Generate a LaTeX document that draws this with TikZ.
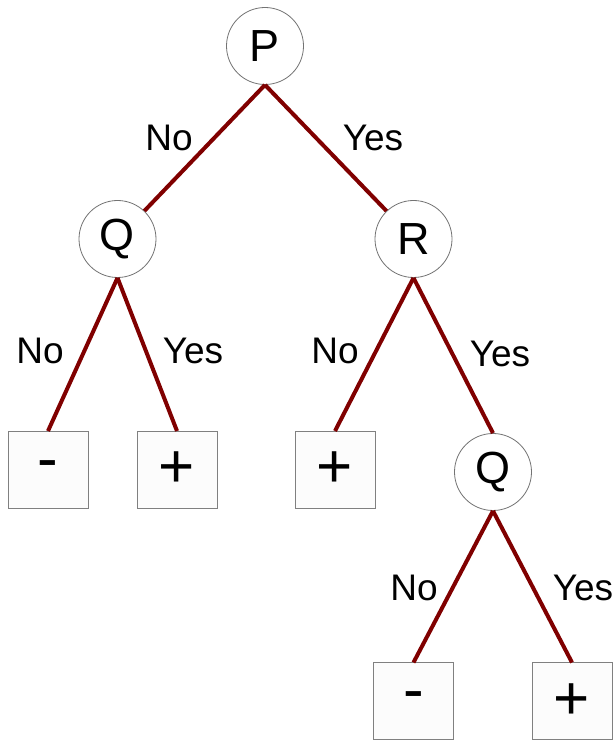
\documentclass[tikz,border=0pt]{standalone}
\usepackage{fontspec}
\setmainfont{Liberation Sans}
\begin{document}
\begin{tikzpicture}[x=1pt,y=1pt,
  dec/.style={circle,draw=black!55,line width=0.8pt,fill=white,minimum size=77pt,inner sep=0pt,font=\fontsize{45}{48}\selectfont},
  leaf/.style={rectangle,draw=black!50,line width=1pt,fill=black!1,minimum width=80pt,minimum height=77pt,inner sep=0pt,font=\fontsize{62}{66}\selectfont},
  edge/.style={draw=red!50!black,line width=4pt},
  lbl/.style={font=\fontsize{37}{40}\selectfont,inner sep=0pt}]
\useasboundingbox (0,0) rectangle (616,740);
\node[dec] (P) at (265,694) {P};
\node[dec] (Q) at (117.5,501) {Q};
\node[dec] (R) at (413.5,501) {R};
\node[dec] (Q2) at (493,268) {Q};
\node[leaf] (b1) at (48,270) {-};
\node[leaf] (b2) at (177,270) {+};
\node[leaf] (b3) at (335,270) {+};
\node[leaf] (b4) at (413.5,38.5) {-};
\node[leaf] (b5) at (572,38.5) {+};
\path[edge] (P.south) -- (Q);
\path[edge] (P.south) -- (R);
\path[edge] (Q.south) -- (b1.north);
\path[edge] (Q.south) -- (b2.north);
\path[edge] (R.south) -- (b3.north);
\path[edge] (R.south) -- (Q2.north);
\path[edge] (Q2.south) -- (b4.north);
\path[edge] (Q2.south) -- (b5.north);
\node[lbl] (l1) at (169,602) {No};
\node[lbl] (l2) at (373,602) {Yes};
\node[lbl] (l3) at (40,389) {No};
\node[lbl] (l4) at (193,389) {Yes};
\node[lbl] (l5) at (335,389) {No};
\node[lbl] (l6) at (500,386) {Yes};
\node[lbl] (l7) at (414,152) {No};
\node[lbl] (l8) at (583,152) {Yes};
\end{tikzpicture}
\end{document}
